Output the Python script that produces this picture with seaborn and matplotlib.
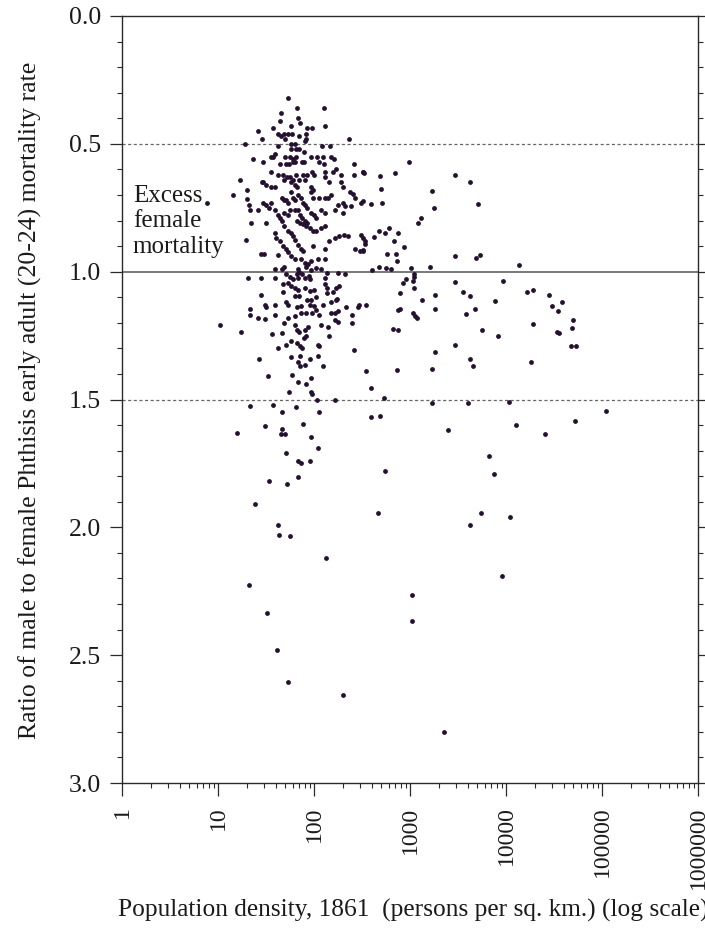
import pandas as pd
import matplotlib
matplotlib.use("Agg")
import matplotlib.pyplot as plt
import matplotlib.ticker as mticker
import seaborn as sns

# values, grouped by band of the mortality ratio
# (density in persons per sq. km., ratio male/female phthisis 20-24)
upper_density = [54, 66, 128, 45, 44, 68, 72, 37, 58, 84,
                 95, 131, 26, 42, 49, 54, 59, 83, 29, 45,
                 50, 70, 82, 81, 232, 19.3, 57, 42.5, 63, 65,
                 69, 57, 122, 146, 79, 39, 37, 36, 23.4, 50,
                 56, 60, 65, 94, 107, 123, 150, 160, 29.7, 44,
                 51.5, 54.5, 60, 64, 74.5, 78, 112, 126, 260, 980]
upper_ratio = [0.32, 0.36, 0.36, 0.38, 0.41, 0.40, 0.42, 0.44, 0.43, 0.44,
               0.44, 0.43, 0.45, 0.46, 0.46, 0.46, 0.46, 0.46, 0.48, 0.47,
               0.48, 0.47, 0.48, 0.49, 0.48, 0.50, 0.50, 0.51, 0.50, 0.52,
               0.52, 0.52, 0.51, 0.51, 0.53, 0.54, 0.55, 0.55, 0.56, 0.55,
               0.55, 0.56, 0.55, 0.55, 0.55, 0.55, 0.55, 0.56, 0.57, 0.58,
               0.58, 0.58, 0.57, 0.57, 0.57, 0.57, 0.57, 0.58, 0.58, 0.57]

mid_density = [16.8, 29, 36, 42, 47.5, 52, 56, 61, 65, 69,
               77, 80, 84, 96, 101, 130, 130, 158, 171, 190,
               260, 321,
               29.5, 32, 36, 39, 49, 58, 63, 66, 92, 98,
               142, 193, 200, 14.3, 20, 20, 21, 21.3, 26, 29.5,
               32, 34, 36, 46, 49, 51.5, 54, 58, 60, 63,
               68, 73, 77, 80, 84, 94, 98, 114, 130, 139,
               149, 177, 200, 209, 235, 254, 265, 39, 42, 44,
               49, 54, 56, 63, 68, 71, 75, 80, 94, 100,
               106, 119, 130, 164, 200, 245, 7.7,
               322, 335, 485, 700, 2970, 4170, 495, 1680, 322, 312,
               390, 515, 5150, 1760, 1290]
mid_ratio = [0.64, 0.65, 0.61, 0.62, 0.62, 0.63, 0.63, 0.64, 0.62, 0.64,
             0.62, 0.64, 0.62, 0.61, 0.62, 0.61, 0.63, 0.61, 0.60, 0.62,
             0.62, 0.61,
             0.65, 0.66, 0.67, 0.67, 0.64, 0.65, 0.66, 0.67, 0.67, 0.68,
             0.65, 0.65, 0.67, 0.70, 0.68, 0.715, 0.74, 0.76, 0.76, 0.73,
             0.74, 0.75, 0.73, 0.71, 0.72, 0.72, 0.73, 0.69, 0.71, 0.72,
             0.70, 0.71, 0.73, 0.74, 0.75, 0.69, 0.71, 0.71, 0.71, 0.71,
             0.70, 0.74, 0.73, 0.745, 0.69, 0.695, 0.71, 0.76, 0.78, 0.79,
             0.77, 0.78, 0.76, 0.76, 0.76, 0.78, 0.79, 0.80, 0.77, 0.78,
             0.79, 0.76, 0.77, 0.76, 0.77, 0.745, 0.73,
             0.61, 0.615, 0.625, 0.615, 0.62, 0.65, 0.675, 0.685, 0.725, 0.73,
             0.735, 0.73, 0.735, 0.75, 0.79]

near_density = [46.5, 85.5, 22, 32, 49, 54, 58, 60, 64, 66,
                71, 77, 83, 90, 98, 106, 119, 130, 39, 40,
                44, 19.7, 47.5, 51.5, 68, 73, 77, 98, 130, 145,
                164, 184, 204, 226, 265, 300, 323, 28, 30, 42,
                54, 58, 63, 74, 80, 87, 92, 110, 130, 39,
                46, 49, 68, 83, 94, 106, 119, 177, 209, 20.5,
                28, 39, 68, 80, 130, 51.5, 56, 60, 66, 69,
                75, 88, 90, 135,
                1220, 312, 322, 343, 343, 417, 475, 550, 606, 675,
                755, 865, 322, 575, 710, 725, 2930, 4870, 5320, 1620,
                405, 475, 560, 635, 1030, 1100, 1100, 13800, 915, 840,
                1070, 2970, 9300]
near_ratio = [0.80, 0.81, 0.81, 0.81, 0.82, 0.84, 0.85, 0.86, 0.875, 0.80,
              0.81, 0.815, 0.82, 0.83, 0.84, 0.84, 0.83, 0.82, 0.85, 0.87,
              0.88, 0.875, 0.90, 0.91, 0.895, 0.91, 0.92, 0.90, 0.91, 0.88,
              0.87, 0.86, 0.855, 0.86, 0.91, 0.92, 0.915, 0.93, 0.93, 0.935,
              0.925, 0.94, 0.95, 0.95, 0.965, 0.97, 0.96, 0.95, 0.95, 0.99,
              0.99, 0.98, 0.99, 0.98, 0.995, 0.985, 0.99, 1.005, 1.01, 1.025,
              1.025, 1.025, 1.025, 1.025, 1.025, 1.01, 1.02, 1.03, 1.01, 1.00,
              1.01, 1.015, 1.03, 1.005,
              0.81, 0.855, 0.87, 0.88, 0.89, 0.865, 0.84, 0.85, 0.83, 0.88,
              0.85, 0.905, 0.92, 0.93, 0.93, 0.96, 0.94, 0.945, 0.935, 0.98,
              0.995, 0.98, 0.985, 0.99, 0.985, 1.01, 1.02, 0.975, 1.03, 1.045,
              1.035, 1.04, 1.035]

male_density = [47.5, 54, 58, 63, 68, 80, 90, 100, 130, 135,
                170, 184, 28, 47.5, 63, 69, 85.5, 94, 104, 135,
                158, 175, 30.6, 32, 39, 51.5, 53, 66, 73, 90,
                101, 124, 151, 170, 218, 287, 21.4, 21.4, 26, 30.6,
                39, 54, 63, 74, 83, 95, 106, 114, 151, 164,
                177, 164, 177, 250, 250, 49, 63, 66, 69, 80,
                87, 119, 139, 17.5, 36.6, 46, 79, 83, 145, 51.5,
                58, 66, 71, 75, 110, 114, 42, 260, 27, 58,
                71, 90, 110, 68, 71, 80, 124, 10.6, 295, 351,
                351,
                1100, 780, 1340, 1840, 1840, 3550, 4170, 3830, 4700, 7600,
                16700, 19200, 28000, 30000, 34600, 19300, 34000, 755, 780, 1070,
                1140, 1190, 670, 755, 5650, 8300, 2950, 18400, 1840, 4170,
                4530, 1700, 740,
                38700, 50000, 48500, 35600, 47600, 53000]
male_ratio = [1.05, 1.045, 1.055, 1.065, 1.07, 1.065, 1.075, 1.07, 1.05, 1.065,
              1.065, 1.055, 1.09, 1.08, 1.095, 1.095, 1.11, 1.11, 1.10, 1.085,
              1.08, 1.105, 1.13, 1.14, 1.13, 1.12, 1.13, 1.14, 1.135, 1.13,
              1.135, 1.13, 1.12, 1.11, 1.14, 1.14, 1.145, 1.17, 1.18, 1.185,
              1.17, 1.18, 1.175, 1.16, 1.16, 1.16, 1.15, 1.17, 1.16, 1.16,
              1.155, 1.19, 1.195, 1.17, 1.20, 1.20, 1.21, 1.23, 1.235, 1.23,
              1.215, 1.21, 1.215, 1.235, 1.245, 1.24, 1.26, 1.25, 1.25, 1.285,
              1.27, 1.28, 1.29, 1.30, 1.285, 1.29, 1.30, 1.305, 1.34, 1.335,
              1.33, 1.34, 1.33, 1.355, 1.37, 1.365, 1.37, 1.21, 1.13, 1.13,
              1.39,
              1.065, 1.085, 1.11, 1.09, 1.145, 1.08, 1.095, 1.165, 1.145, 1.115,
              1.08, 1.07, 1.09, 1.135, 1.155, 1.205, 1.235, 1.15, 1.145, 1.16,
              1.175, 1.18, 1.225, 1.23, 1.23, 1.25, 1.285, 1.355, 1.315, 1.34,
              1.37, 1.38, 1.385,
              1.12, 1.19, 1.22, 1.24, 1.29, 1.29]

tail_density = [33, 59.5, 68, 82, 92.5, 55, 92.5, 96, 107, 167,
                21.4, 37, 64.6, 46.5, 112, 15.6, 31, 46.5, 45, 49.4,
                76, 94, 51, 110, 68.6, 74, 90.6, 34, 52, 68,
                24, 42, 43, 55.7, 134, 20.8, 32.7, 41.5, 53, 202,
                395, 530, 395, 485, 550, 464, 1050, 1060, 2260, 1700,
                4000, 2470, 6600, 7450, 4200, 5540, 10900, 9100, 10700, 110000,
                12800, 51800, 25400]
tail_ratio = [1.41, 1.405, 1.43, 1.44, 1.415, 1.47, 1.47, 1.48, 1.50, 1.50,
              1.525, 1.52, 1.53, 1.55, 1.55, 1.63, 1.605, 1.615, 1.635, 1.635,
              1.595, 1.645, 1.71, 1.69, 1.74, 1.75, 1.74, 1.82, 1.83, 1.805,
              1.91, 1.99, 2.03, 2.035, 2.12, 2.225, 2.335, 2.48, 2.605, 2.655,
              1.455, 1.495, 1.57, 1.565, 1.78, 1.945, 2.265, 2.365, 2.80, 1.515,
              1.515, 1.62, 1.72, 1.79, 1.99, 1.945, 1.96, 2.19, 1.51, 1.545,
              1.60, 1.585, 1.635]

x_ticks = [1, 10, 100, 1000, 10000, 100000, 1000000]
y_ticks = [0.0, 0.5, 1.0, 1.5, 2.0, 2.5, 3.0]

INK = "#2a2a2a"
DOT = "#24102f"


def build_frame():
    parts = [(upper_density, upper_ratio), (mid_density, mid_ratio),
             (near_density, near_ratio), (male_density, male_ratio),
             (tail_density, tail_ratio)]
    frames = []
    for dens, rat in parts:
        assert len(dens) == len(rat), (len(dens), len(rat))
        frames.append(pd.DataFrame({"density": dens, "ratio": rat}))
    return pd.concat(frames, ignore_index=True)


df = build_frame()

sns.set_style("ticks")
plt.rcParams["font.family"] = ["Liberation Serif", "DejaVu Serif"]

W, H = 705, 948
fig = plt.figure(figsize=(W / 100, H / 100), dpi=100)
ax = fig.add_axes([122 / W, 1 - 783 / H, (698 - 122) / W, (783 - 16) / H])

# reference lines
ax.axhline(1.0, color="#555555", lw=1.1, zorder=1)
for yv in (0.5, 1.5):
    ax.axhline(yv, color="#666666", lw=0.9, ls=(0, (2.5, 2)), zorder=1)

sns.scatterplot(data=df, x="density", y="ratio", ax=ax, color=DOT,
                s=12, linewidth=0, zorder=3, legend=False)

ax.set_xscale("log")
ax.set_xlim(1, 1e6)
ax.set_ylim(3.0, 0.0)

ax.xaxis.set_major_locator(mticker.FixedLocator(x_ticks))
ax.xaxis.set_major_formatter(mticker.FixedFormatter([str(v) for v in x_ticks]))
ax.xaxis.set_minor_locator(mticker.LogLocator(base=10, subs=range(2, 10), numticks=20))
ax.xaxis.set_minor_formatter(mticker.NullFormatter())
ax.yaxis.set_major_locator(mticker.FixedLocator(y_ticks))
ax.yaxis.set_major_formatter(mticker.FormatStrFormatter("%.1f"))
ax.yaxis.set_minor_locator(mticker.MultipleLocator(0.1))

ax.tick_params(axis="both", which="major", direction="out", length=9, width=0.9,
               color=INK, labelcolor="#1a1a1a")
ax.tick_params(axis="both", which="minor", direction="out", length=3.5, width=0.8,
               color=INK)
ax.tick_params(axis="y", which="both", right=True, pad=6, labelsize=18.5)
ax.tick_params(axis="x", which="major", pad=8, labelsize=17)
for lab in ax.get_xticklabels():
    lab.set_rotation(90)

for sp in ax.spines.values():
    sp.set_visible(True)
    sp.set_color(INK)
    sp.set_linewidth(1.0)

ax.set_xlabel("")
ax.set_ylabel("")

ax.text(0.019, 0.78, "Excess\nfemale\nmortality", transform=ax.transAxes,
        ha="left", va="top", fontsize=18, linespacing=1.2, color="#1a1a1a")

fig.text(30 / W, 1 - 400 / H,
         "Ratio of male to female Phthisis early adult (20-24) mortality rate",
         rotation=90, ha="center", va="center", fontsize=18.5, color="#1a1a1a")
fig.text(118 / W, 1 - 910 / H,
         "Population density, 1861  (persons per sq. km.) (log scale)",
         ha="left", va="center", fontsize=18.3, color="#1a1a1a")

fig.savefig("out.png", dpi=100, facecolor="white")
